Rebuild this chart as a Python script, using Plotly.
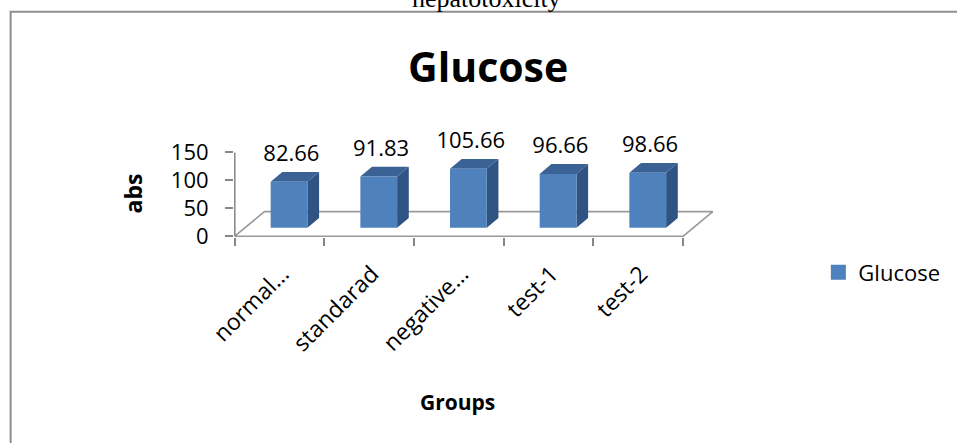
import plotly.graph_objects as go

# ---- data ----
groups = ["normal…", "standarad", "negative…", "test-1", "test-2"]
glucose = [82.66, 91.83, 105.66, 96.66, 98.66]
y_ticks = [0, 50, 100, 150]

# ---- styling ----
FONT = "Open Sans"
FRONT = "#4F81BD"
SIDE = "#2F5382"
TOP = "#3B6295"
AXIS = "#868686"
FLOOR = "#9A9A9A"

# 3-D look: bars stand part way back on a slanted floor
BAR_SHIFT_X = 0.105   # front face offset from category centre (category units)
BAR_BASE = 15.0       # front face lifted off the front floor edge (value units)
BAR_W = 0.41
DEPTH_X = 0.13        # bar depth, horizontal part
DEPTH_Y = 17.5        # bar depth, vertical part
FLOOR_X = 0.33
FLOOR_Y = 44.0
LABEL_GAP = 47.0
TICK_LABEL_SHIFT = 0.03

# ---- plot area geometry ----
W_PX, H_PX = 957, 443
X_RANGE = [-0.509, 5.0]
Y_RANGE = [-1.4, 210.0]
PPU_X = 90.2
PPU_Y = 0.556
plot_w = (X_RANGE[1] - X_RANGE[0]) * PPU_X
plot_h = (Y_RANGE[1] - Y_RANGE[0]) * PPU_Y
plot_l = 235.0 - (-0.5 - X_RANGE[0]) * PPU_X
plot_bottom = 236.0 + (0 - Y_RANGE[0]) * PPU_Y
plot_t = plot_bottom - plot_h


def px_x(px):
    return (px - plot_l) / plot_w


def px_y(py):
    return (plot_bottom - py) / plot_h


n = len(groups)
left, right = -0.5, n - 0.5

fig = go.Figure()

# floor of the 3-D chart
fig.add_trace(go.Scatter(
    x=[left, right, right + FLOOR_X, left + FLOOR_X, left],
    y=[0, 0, FLOOR_Y, FLOOR_Y, 0],
    mode="lines", line=dict(color=FLOOR, width=1.6),
    hoverinfo="skip", showlegend=False))

# value axis line
fig.add_trace(go.Scatter(
    x=[left, left], y=[0, max(y_ticks)],
    mode="lines", line=dict(color=AXIS, width=1.5),
    hoverinfo="skip", showlegend=False))

side_x, side_y, top_x, top_y, front_x, front_y = [], [], [], [], [], []
for i, v in enumerate(glucose):
    x0 = i + BAR_SHIFT_X - BAR_W / 2
    x1 = x0 + BAR_W
    b = BAR_BASE
    t = BAR_BASE + v
    side_x += [x1, x1 + DEPTH_X, x1 + DEPTH_X, x1, x1, None]
    side_y += [b, b + DEPTH_Y, t + DEPTH_Y, t, b, None]
    top_x += [x0, x1, x1 + DEPTH_X, x0 + DEPTH_X, x0, None]
    top_y += [t, t, t + DEPTH_Y, t + DEPTH_Y, t, None]
    front_x += [x0, x1, x1, x0, x0, None]
    front_y += [b, b, t, t, b, None]

for xs, ys, col in [(side_x, side_y, SIDE), (top_x, top_y, TOP), (front_x, front_y, FRONT)]:
    fig.add_trace(go.Scatter(
        x=xs, y=ys, mode="lines", fill="toself", fillcolor=col,
        line=dict(width=0, color=col), hoverinfo="skip", showlegend=False))

# value labels above the bars
fig.add_trace(go.Scatter(
    x=[i + BAR_SHIFT_X + DEPTH_X * 0.2 for i in range(n)],
    y=[BAR_BASE + v + LABEL_GAP for v in glucose],
    text=[f"{v:.2f}" for v in glucose],
    mode="text", textposition="middle center",
    textfont=dict(family=FONT, size=22, color="#000000"),
    cliponaxis=False, hoverinfo="skip", showlegend=False))

# legend entry
fig.add_trace(go.Scatter(
    x=[None], y=[None], mode="markers", name="Glucose",
    marker=dict(symbol="square", size=15, color=FRONT)))

fig.update_layout(
    width=W_PX, height=H_PX, autosize=False,
    margin=dict(l=plot_l, r=W_PX - plot_l - plot_w, t=plot_t, b=H_PX - plot_bottom, pad=0),
    paper_bgcolor="#FFFFFF", plot_bgcolor="rgba(0,0,0,0)",
    font=dict(family=FONT, size=22, color="#000000"),
    showlegend=True,
    legend=dict(x=px_x(822), y=px_y(272), xanchor="left", yanchor="middle",
                font=dict(family=FONT, size=22, color="#000000"),
                bgcolor="rgba(0,0,0,0)", itemwidth=30),
    xaxis=dict(range=X_RANGE, showgrid=False, zeroline=False, showline=False,
               tickmode="array", tickvals=[i + TICK_LABEL_SHIFT for i in range(n)],
               ticktext=groups, tickangle=-45, ticks="", ticklabelstandoff=18,
               tickfont=dict(family=FONT, size=23, color="#000000"),
               minor=dict(tickmode="array", tickvals=[k - 0.5 for k in range(n + 1)],
                          ticks="outside", ticklen=8, tickwidth=1.5, tickcolor=AXIS,
                          showgrid=False)),
    yaxis=dict(range=Y_RANGE, showgrid=False, zeroline=False, showline=False,
               tickmode="array", tickvals=y_ticks, ticks="outside", ticklen=8,
               tickwidth=1.5, tickcolor=AXIS, ticklabelstandoff=12,
               tickfont=dict(family=FONT, size=22, color="#000000")),
    annotations=[
        dict(text="<b>Glucose</b>", x=px_x(490), y=px_y(66), xref="paper", yref="paper",
             showarrow=False, xanchor="center", yanchor="middle",
             font=dict(family=FONT, size=41, color="#000000")),
        dict(text="<b>abs</b>", x=px_x(133), y=px_y(193), xref="paper", yref="paper",
             showarrow=False, textangle=-90, xanchor="center", yanchor="middle",
             font=dict(family=FONT, size=23, color="#000000")),
        dict(text="<b>Groups</b>", x=px_x(459), y=px_y(401), xref="paper", yref="paper",
             showarrow=False, xanchor="center", yanchor="middle",
             font=dict(family=FONT, size=21, color="#000000")),
        dict(text="hepatotoxicity", x=px_x(488), y=px_y(-1), xref="paper", yref="paper",
             showarrow=False, xanchor="center", yanchor="middle",
             font=dict(family="Liberation Serif", size=26, color="#000000")),
    ],
    shapes=[
        dict(type="path", xref="paper", yref="paper",
             path=f"M {px_x(9.5)},{px_y(460)} L {px_x(9.5)},{px_y(12.5)} L {px_x(970)},{px_y(12.5)}",
             line=dict(color="#8E8E8E", width=2)),
    ],
)

fig.write_html("out.html")
